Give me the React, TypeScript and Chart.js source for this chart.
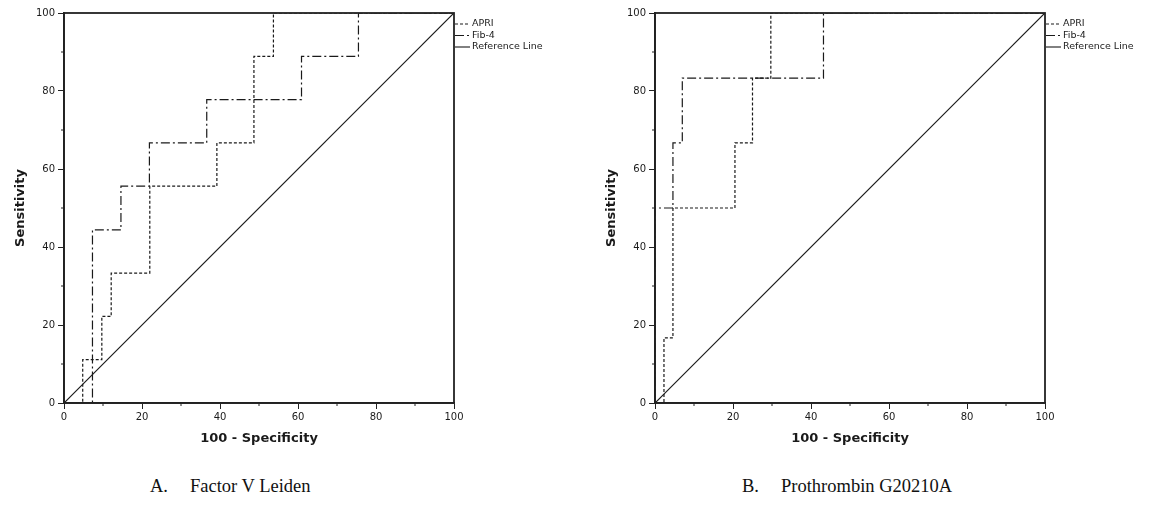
import React, { useEffect, useRef } from "react";
import { Chart, registerables } from "chart.js";

Chart.register(...registerables);

// ---- data ----
const seriesLabels = ["APRI", "Fib-4", "Reference Line"];
const axisTicks = [0, 20, 40, 60, 80, 100];
const minorTicks = [10, 30, 50, 70, 90];
const xTitle = "100 - Specificity";
const yTitle = "Sensitivity";

// Panel A: Factor V Leiden
const aApriX = [0, 4.8, 4.8, 9.7, 9.7, 12.1, 12.1, 22.0, 22.0, 39.2, 39.2, 48.7, 48.7, 53.7, 53.7, 100];
const aApriY = [0, 0, 11.1, 11.1, 22.2, 22.2, 33.3, 33.3, 55.6, 55.6, 66.7, 66.7, 88.9, 88.9, 100, 100];
const aFibX = [0, 7.3, 7.3, 14.6, 14.6, 21.9, 21.9, 36.6, 36.6, 60.9, 60.9, 75.5, 75.5, 100];
const aFibY = [0, 0, 44.4, 44.4, 55.6, 55.6, 66.7, 66.7, 77.8, 77.8, 88.9, 88.9, 100, 100];

// Panel B: Prothrombin G20210A
const bApriX = [0, 2.3, 2.3, 4.6, 4.6, 20.5, 20.5, 25.0, 25.0, 29.7, 29.7, 100];
const bApriY = [0, 0, 16.7, 16.7, 50, 50, 66.7, 66.7, 83.3, 83.3, 100, 100];
const bFibX = [0, 0, 4.6, 4.6, 7.0, 7.0, 43.2, 43.2, 100];
const bFibY = [0, 50, 50, 66.7, 66.7, 83.3, 83.3, 100, 100];

// Reference line
const refX = [0, 100];
const refY = [0, 100];

const captionA = ["A.", "Factor V Leiden"];
const captionB = ["B.", "Prothrombin G20210A"];

// ---- styles ----
const INK = "#1a1a1a";
const AXIS = "#222";
const apriDash = [3, 2];
const fibDash = [9, 3, 2, 3];

const toPts = (xs: number[], ys: number[]) => xs.map((x, i) => ({ x, y: ys[i] }));

const framePlugin = {
  id: "frameAndExtras",
  afterDraw(chart: any) {
    const { ctx, chartArea: a, scales } = chart;
    ctx.save();
    // frame
    ctx.strokeStyle = AXIS;
    ctx.lineWidth = 1.8;
    ctx.setLineDash([]);
    ctx.strokeRect(a.left, a.top, a.right - a.left, a.bottom - a.top);
    // minor ticks
    ctx.lineWidth = 1;
    ctx.beginPath();
    minorTicks.forEach((v) => {
      const px = scales.x.getPixelForValue(v);
      ctx.moveTo(px, a.bottom);
      ctx.lineTo(px, a.bottom + 3);
      const py = scales.y.getPixelForValue(v);
      ctx.moveTo(a.left - 3, py);
      ctx.lineTo(a.left, py);
    });
    ctx.stroke();
    // legend
    ctx.font = "9.5px 'DejaVu Sans'";
    ctx.fillStyle = INK;
    ctx.textBaseline = "middle";
    ctx.textAlign = "left";
    chart.data.datasets.forEach((ds: any, i: number) => {
      const y = a.top + 11 + i * 11.5;
      ctx.strokeStyle = INK;
      ctx.lineWidth = 1.1;
      ctx.setLineDash(ds.borderDash || []);
      ctx.beginPath();
      ctx.moveTo(a.right + 1, y);
      ctx.lineTo(a.right + 16, y);
      ctx.stroke();
      ctx.setLineDash([]);
      ctx.fillText(ds.label, a.right + 18, y);
    });
    ctx.restore();
  },
};

function RocChart({ apriX, apriY, fibX, fibY, left }: any) {
  const ref = useRef<HTMLCanvasElement>(null);
  useEffect(() => {
    const tickFont = { family: "'DejaVu Sans'", size: 10 };
    const titleFont = { family: "'DejaVu Sans'", size: 13, weight: "bold" as const };
    const chart = new Chart(ref.current!, {
      type: "scatter",
      data: {
        datasets: [
          { label: seriesLabels[0], data: toPts(apriX, apriY), showLine: true, borderColor: INK, borderWidth: 1.2, borderDash: apriDash, pointRadius: 0 },
          { label: seriesLabels[1], data: toPts(fibX, fibY), showLine: true, borderColor: INK, borderWidth: 1.2, borderDash: fibDash, pointRadius: 0 },
          { label: seriesLabels[2], data: toPts(refX, refY), showLine: true, borderColor: INK, borderWidth: 1.2, pointRadius: 0 },
        ],
      },
      options: {
        animation: false,
        responsive: false,
        devicePixelRatio: 1,
        layout: { padding: { top: 13, right: 110, left: 0, bottom: 0 } },
        plugins: { legend: { display: false }, tooltip: { enabled: false } },
        scales: {
          x: {
            type: "linear",
            min: 0,
            max: 100,
            afterBuildTicks: (s: any) => { s.ticks = axisTicks.map((v) => ({ value: v })); },
            afterFit: (s: any) => { s.height = 57; },
            ticks: { font: tickFont, color: INK, padding: 2, maxRotation: 0 },
            grid: { drawOnChartArea: false, tickLength: 6, color: AXIS, lineWidth: 1 },
            border: { color: AXIS, width: 1.8 },
            title: { display: true, text: xTitle, font: titleFont, color: INK, padding: { top: 0, bottom: 14 } },
          },
          y: {
            type: "linear",
            min: 0,
            max: 100,
            afterBuildTicks: (s: any) => { s.ticks = axisTicks.map((v) => ({ value: v })); },
            afterFit: (s: any) => { s.width = 64; },
            ticks: { font: tickFont, color: INK, padding: 3 },
            grid: { drawOnChartArea: false, tickLength: 6, color: AXIS, lineWidth: 1 },
            border: { color: AXIS, width: 1.8 },
            title: { display: true, text: yTitle, font: titleFont, color: INK, padding: { top: 13, bottom: 0 } },
          },
        },
      },
      plugins: [framePlugin],
    });
    return () => chart.destroy();
  }, []);
  return (
    <canvas
      ref={ref}
      width={564}
      height={460}
      style={{ position: "absolute", left, top: 0, width: 564, height: 460 }}
    />
  );
}

const capStyle: React.CSSProperties = {
  position: "absolute",
  top: 476,
  fontFamily: "'Liberation Serif', serif",
  fontSize: 18.5,
  color: "#111",
  whiteSpace: "nowrap",
};

export default function App() {
  return (
    <div style={{ position: "absolute", left: 0, top: 0, width: 1155, height: 506, background: "#fff", overflow: "hidden" }}>
      <RocChart apriX={aApriX} apriY={aApriY} fibX={aFibX} fibY={aFibY} left={0} />
      <RocChart apriX={bApriX} apriY={bApriY} fibX={bFibX} fibY={bFibY} left={591} />
      <div style={{ ...capStyle, left: 150 }}>{captionA[0]}</div>
      <div style={{ ...capStyle, left: 190 }}>{captionA[1]}</div>
      <div style={{ ...capStyle, left: 742 }}>{captionB[0]}</div>
      <div style={{ ...capStyle, left: 781 }}>{captionB[1]}</div>
    </div>
  );
}
